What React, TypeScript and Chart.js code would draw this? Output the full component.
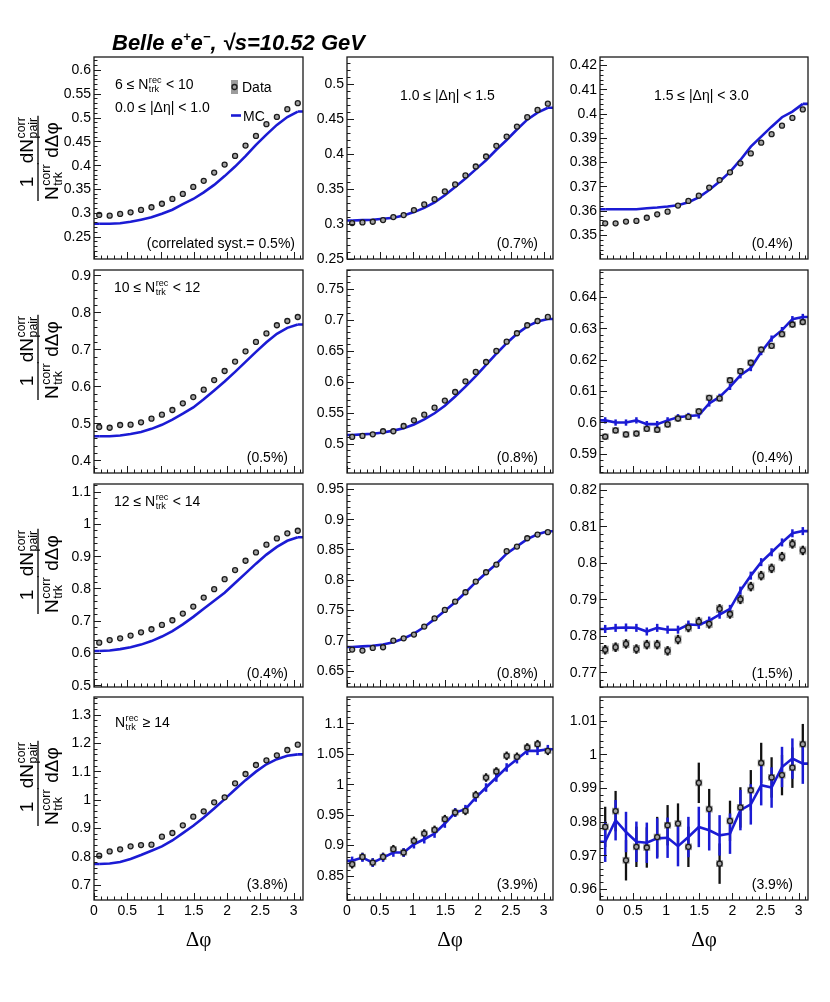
import { useEffect, useRef } from "react";
import { Chart, registerables } from "chart.js";

Chart.register(...registerables);

// centres of the 20 delta-phi bins between 0 and pi
const PHI_BINS = [0.0785, 0.2356, 0.3927, 0.5498, 0.7069, 0.8639, 1.021, 1.1781, 1.3352, 1.4923,
  1.6493, 1.8064, 1.9635, 2.1206, 2.2777, 2.4347, 2.5918, 2.7489, 2.906, 3.0631];
const X_TICK_LABELS = [0, 0.5, 1, 1.5, 2, 2.5, 3];

// 6 <= Ntrk < 10
const DATA_N6_ETA0 = [0.2955, 0.294, 0.2976, 0.301, 0.306, 0.3116, 0.319, 0.329, 0.3396, 0.3543, 0.367, 0.3844, 0.4012, 0.4194, 0.4411, 0.4614, 0.4859, 0.5013, 0.5174, 0.53];
const MC_N6_ETA0 = [0.277, 0.277, 0.278, 0.281, 0.2855, 0.2905, 0.298, 0.3065, 0.318, 0.329, 0.343, 0.3585, 0.377, 0.397, 0.419, 0.4425, 0.464, 0.4845, 0.501, 0.5125];
const DATA_N6_ETA1 = [0.3013, 0.3023, 0.3032, 0.3056, 0.3099, 0.3127, 0.3199, 0.3279, 0.3355, 0.3465, 0.3565, 0.3693, 0.3821, 0.3964, 0.4116, 0.4249, 0.4392, 0.4525, 0.4629, 0.4719];
const MC_N6_ETA1 = [0.305, 0.3055, 0.306, 0.3075, 0.309, 0.312, 0.317, 0.323, 0.331, 0.341, 0.353, 0.365, 0.378, 0.391, 0.406, 0.42, 0.435, 0.449, 0.459, 0.466];
const DATA_N6_ETA2 = [0.3548, 0.3548, 0.3555, 0.3558, 0.3571, 0.3585, 0.3596, 0.3621, 0.364, 0.3662, 0.3695, 0.3726, 0.3758, 0.3795, 0.3836, 0.388, 0.3915, 0.395, 0.3982, 0.4017];
const MC_N6_ETA2 = [0.3606, 0.3606, 0.3606, 0.3606, 0.361, 0.3613, 0.3617, 0.3622, 0.3635, 0.3655, 0.3685, 0.372, 0.376, 0.3809, 0.3864, 0.3905, 0.3946, 0.3985, 0.4008, 0.404];

// 10 <= Ntrk < 12
const DATA_N10_ETA0 = [0.49, 0.488, 0.4955, 0.4964, 0.5027, 0.5126, 0.5234, 0.536, 0.554, 0.571, 0.591, 0.617, 0.6414, 0.667, 0.6946, 0.72, 0.743, 0.765, 0.7766, 0.7874];
const MC_N10_ETA0 = [0.465, 0.465, 0.467, 0.471, 0.4766, 0.485, 0.496, 0.51, 0.526, 0.543, 0.565, 0.589, 0.613, 0.639, 0.666, 0.693, 0.719, 0.742, 0.758, 0.767];
const DATA_N10_ETA1 = [0.5108, 0.5124, 0.5151, 0.52, 0.52, 0.5285, 0.5376, 0.5468, 0.558, 0.5694, 0.5833, 0.6005, 0.6156, 0.6317, 0.6495, 0.6645, 0.678, 0.6909, 0.6978, 0.7043];
const MC_N10_ETA1 = [0.514, 0.515, 0.516, 0.518, 0.521, 0.525, 0.531, 0.539, 0.549, 0.561, 0.576, 0.592, 0.609, 0.627, 0.645, 0.662, 0.677, 0.689, 0.697, 0.701];
const DATA_N10_ETA2 = [0.5954, 0.5974, 0.5961, 0.5964, 0.5979, 0.5976, 0.5993, 0.6012, 0.6017, 0.6035, 0.6078, 0.6076, 0.6134, 0.6163, 0.619, 0.6232, 0.6244, 0.6281, 0.6312, 0.632];
const MC_N10_ETA2 = [0.6006, 0.5999, 0.5999, 0.6006, 0.5994, 0.5994, 0.6006, 0.6016, 0.602, 0.6022, 0.606, 0.6081, 0.6113, 0.615, 0.6173, 0.6224, 0.6267, 0.6294, 0.6329, 0.6336];

// 12 <= Ntrk < 14
const DATA_N12_ETA0 = [0.632, 0.64, 0.6456, 0.6539, 0.6642, 0.6736, 0.687, 0.7016, 0.7223, 0.744, 0.772, 0.798, 0.829, 0.857, 0.886, 0.912, 0.936, 0.9554, 0.971, 0.979];
const MC_N12_ETA0 = [0.606, 0.608, 0.612, 0.618, 0.626, 0.637, 0.651, 0.668, 0.689, 0.712, 0.737, 0.762, 0.787, 0.817, 0.847, 0.877, 0.905, 0.929, 0.948, 0.959];
const DATA_N12_ETA1 = [0.6847, 0.6831, 0.6875, 0.6886, 0.6996, 0.7034, 0.7095, 0.7227, 0.7364, 0.7502, 0.764, 0.7794, 0.797, 0.8124, 0.8251, 0.8471, 0.8548, 0.8685, 0.8746, 0.8785];
const MC_N12_ETA1 = [0.689, 0.69, 0.691, 0.693, 0.697, 0.703, 0.711, 0.722, 0.735, 0.749, 0.763, 0.779, 0.796, 0.811, 0.826, 0.843, 0.855, 0.867, 0.875, 0.88];
const DATA_N12_ETA2 = [0.7762, 0.7769, 0.7778, 0.7764, 0.7776, 0.7776, 0.7759, 0.779, 0.7823, 0.7839, 0.7833, 0.7874, 0.786, 0.79, 0.7935, 0.7965, 0.7985, 0.8017, 0.8052, 0.8034];
const MC_N12_ETA2 = [0.7819, 0.7822, 0.7823, 0.7822, 0.7812, 0.7822, 0.7817, 0.7817, 0.7831, 0.783, 0.7842, 0.7858, 0.7874, 0.7924, 0.7965, 0.8002, 0.8029, 0.8056, 0.8081, 0.8087];

// Ntrk >= 14
const DATA_N14_ETA0 = [0.8024, 0.8176, 0.8247, 0.8353, 0.84, 0.8412, 0.8694, 0.8824, 0.9094, 0.94, 0.9588, 0.9906, 1.0082, 1.0576, 1.0906, 1.1224, 1.1388, 1.1565, 1.1753, 1.1941];
const MC_N14_ETA0 = [0.773, 0.775, 0.78, 0.791, 0.805, 0.82, 0.835, 0.856, 0.882, 0.908, 0.937, 0.969, 1.002, 1.036, 1.069, 1.099, 1.125, 1.143, 1.155, 1.16];
const DATA_N14_ETA1 = [0.8687, 0.8807, 0.8714, 0.8807, 0.8933, 0.8879, 0.907, 0.919, 0.925, 0.9426, 0.9535, 0.9562, 0.982, 1.0109, 1.0208, 1.0465, 1.0449, 1.0602, 1.0656, 1.0547];
const MC_N14_ETA1 = [0.8742, 0.8796, 0.8714, 0.8796, 0.8879, 0.8879, 0.9015, 0.9097, 0.919, 0.9354, 0.9535, 0.959, 0.9781, 0.9945, 1.0109, 1.0274, 1.041, 1.0547, 1.0547, 1.0574];
const DATA_N14_ETA2 = [0.9784, 0.9831, 0.9685, 0.9725, 0.9723, 0.9754, 0.9789, 0.9794, 0.9725, 0.9915, 0.9837, 0.9675, 0.9802, 0.9842, 0.9893, 0.9974, 0.9931, 0.9938, 0.996, 1.003];
const MC_N14_ETA2 = [0.974, 0.9804, 0.9769, 0.974, 0.9737, 0.975, 0.9752, 0.9727, 0.9754, 0.9784, 0.9774, 0.9759, 0.9764, 0.9834, 0.9851, 0.9908, 0.9901, 0.9962, 0.9987, 0.9972];

// frame edges in page pixels
const COL_X = [[94, 303], [347, 553], [600, 808]];
const ROW_Y = [[57, 259], [270, 473], [484, 687], [697, 900]];
const YTITLE_CENTER = [161, 360, 574, 786];

const SANS = '"Liberation Sans", Arial, sans-serif';
const SERIF = '"Liberation Serif", "Times New Roman", serif';
const BLUE = "#1b1bd4";

type Seg = string | { sup: string; sub: string };
interface Note { dx: number; dy: number; segs: Seg[] }
interface Panel {
  row: number; col: number;
  data: number[]; mc: number[];
  yMin: number; yMax: number; yStep: number;
  dErr: number; mErr: number; sys: number;
  pct: string; notes: Note[]; legend?: boolean;
}

const NREC = { sup: "rec", sub: "trk" };

const PANELS: Panel[] = [
  { row: 0, col: 0, data: DATA_N6_ETA0, mc: MC_N6_ETA0, yMin: 0.203, yMax: 0.627, yStep: 0.05, dErr: 0, mErr: 0, sys: 0,
    pct: "(correlated syst.= 0.5%)", legend: true,
    notes: [{ dx: 21, dy: 27, segs: ["6 ≤ N", NREC, " < 10"] }, { dx: 21, dy: 50, segs: ["0.0 ≤ |Δη| < 1.0"] }] },
  { row: 0, col: 1, data: DATA_N6_ETA1, mc: MC_N6_ETA1, yMin: 0.25, yMax: 0.5385, yStep: 0.05, dErr: 0, mErr: 0, sys: 0,
    pct: "(0.7%)", notes: [{ dx: 53, dy: 38, segs: ["1.0 ≤ |Δη| < 1.5"] }] },
  { row: 0, col: 2, data: DATA_N6_ETA2, mc: MC_N6_ETA2, yMin: 0.3401, yMax: 0.4233, yStep: 0.01, dErr: 0, mErr: 0, sys: 0,
    pct: "(0.4%)", notes: [{ dx: 54, dy: 38, segs: ["1.5 ≤ |Δη| < 3.0"] }] },
  { row: 1, col: 0, data: DATA_N10_ETA0, mc: MC_N10_ETA0, yMin: 0.3657, yMax: 0.9144, yStep: 0.1, dErr: 0, mErr: 0, sys: 0,
    pct: "(0.5%)", notes: [{ dx: 20, dy: 17, segs: ["10 ≤ N", NREC, " < 12"] }] },
  { row: 1, col: 1, data: DATA_N10_ETA1, mc: MC_N10_ETA1, yMin: 0.4527, yMax: 0.78, yStep: 0.05, dErr: 0, mErr: 0, sys: 0,
    pct: "(0.8%)", notes: [] },
  { row: 1, col: 2, data: DATA_N10_ETA2, mc: MC_N10_ETA2, yMin: 0.5838, yMax: 0.6486, yStep: 0.01, dErr: 0.0009, mErr: 0.001, sys: 0.001,
    pct: "(0.4%)", notes: [] },
  { row: 2, col: 0, data: DATA_N12_ETA0, mc: MC_N12_ETA0, yMin: 0.4946, yMax: 1.124, yStep: 0.1, dErr: 0, mErr: 0, sys: 0,
    pct: "(0.4%)", notes: [{ dx: 20, dy: 17, segs: ["12 ≤ N", NREC, " < 14"] }] },
  { row: 2, col: 1, data: DATA_N12_ETA1, mc: MC_N12_ETA1, yMin: 0.623, yMax: 0.958, yStep: 0.05, dErr: 0, mErr: 0, sys: 0,
    pct: "(0.8%)", notes: [] },
  { row: 2, col: 2, data: DATA_N12_ETA2, mc: MC_N12_ETA2, yMin: 0.766, yMax: 0.8216, yStep: 0.01, dErr: 0.0013, mErr: 0.0011, sys: 0.0011,
    pct: "(1.5%)", notes: [] },
  { row: 3, col: 0, data: DATA_N14_ETA0, mc: MC_N14_ETA0, yMin: 0.646, yMax: 1.3624, yStep: 0.1, dErr: 0, mErr: 0, sys: 0,
    pct: "(3.8%)", notes: [{ dx: 21, dy: 25, segs: ["N", NREC, " ≥ 14"] }] },
  { row: 3, col: 1, data: DATA_N14_ETA1, mc: MC_N14_ETA1, yMin: 0.81, yMax: 1.143, yStep: 0.05, dErr: 0.007, mErr: 0.007, sys: 0.005,
    pct: "(3.9%)", notes: [] },
  { row: 3, col: 2, data: DATA_N14_ETA2, mc: MC_N14_ETA2, yMin: 0.9567, yMax: 1.017, yStep: 0.01, dErr: 0.006, mErr: 0.006, sys: 0.001,
    pct: "(3.9%)", notes: [] },
];

function ticksBetween(min: number, max: number, step: number) {
  const out: number[] = [];
  const start = Math.ceil(min / step - 1e-6);
  const end = Math.floor(max / step + 1e-6);
  for (let k = start; k <= end; k++) out.push(+(k * step).toFixed(6));
  return out;
}

function fmt(v: number) {
  return String(parseFloat(v.toFixed(4)));
}

function richWidth(ctx: CanvasRenderingContext2D, segs: Seg[], size: number) {
  let w = 0;
  for (const s of segs) {
    if (typeof s === "string") {
      ctx.font = `${size}px ${SANS}`;
      w += ctx.measureText(s).width;
    } else {
      ctx.font = `${size * 0.65}px ${SANS}`;
      w += Math.max(ctx.measureText(s.sup).width, ctx.measureText(s.sub).width) + 1;
    }
  }
  return w;
}

function drawRich(ctx: CanvasRenderingContext2D, segs: Seg[], x: number, base: number, size: number) {
  let cx = x;
  ctx.textAlign = "left";
  ctx.textBaseline = "alphabetic";
  for (const s of segs) {
    if (typeof s === "string") {
      ctx.font = `${size}px ${SANS}`;
      ctx.fillText(s, cx, base);
      cx += ctx.measureText(s).width;
    } else {
      ctx.font = `${size * 0.65}px ${SANS}`;
      ctx.fillText(s.sup, cx + 0.5, base - size * 0.42);
      ctx.fillText(s.sub, cx + 0.5, base + size * 0.22);
      cx += Math.max(ctx.measureText(s.sup).width, ctx.measureText(s.sub).width) + 1;
    }
  }
}

function drawYTitle(ctx: CanvasRenderingContext2D, cy: number) {
  const size = 19;
  ctx.save();
  ctx.translate(38, cy);
  ctx.rotate(-Math.PI / 2);
  ctx.fillStyle = "#000";
  ctx.strokeStyle = "#000";
  ctx.lineWidth = 1.3;
  const frac = (cx: number, num: Seg[], den: Seg[]) => {
    const wn = richWidth(ctx, num, size);
    const wd = richWidth(ctx, den, size);
    const w = Math.max(wn, wd) + 2;
    drawRich(ctx, num, cx - wn / 2, -5, size);
    drawRich(ctx, den, cx - wd / 2, 20, size);
    ctx.beginPath();
    ctx.moveTo(cx - w / 2, 0);
    ctx.lineTo(cx + w / 2, 0);
    ctx.stroke();
  };
  frac(-21, ["1"], ["N", { sup: "corr", sub: "trk" }]);
  frac(21, ["dN", { sup: "corr", sub: "pair" }], ["dΔφ"]);
  ctx.restore();
}

function makePlugin(p: Panel, canvasTop: number) {
  return {
    id: "rootPanel",
    beforeDatasetsDraw(chart: Chart) {
      const { ctx, chartArea: a } = chart;
      const x = chart.scales.x;
      const y = chart.scales.y;
      ctx.save();
      ctx.beginPath();
      ctx.rect(a.left, a.top, a.right - a.left, a.bottom - a.top);
      ctx.clip();
      if (p.sys > 0) {
        ctx.fillStyle = "#9c9c9c";
        PHI_BINS.forEach((v, i) => {
          const px = x.getPixelForValue(v);
          const y1 = y.getPixelForValue(p.data[i] + p.sys);
          const y2 = y.getPixelForValue(p.data[i] - p.sys);
          ctx.fillRect(px - 3.5, y1, 7, y2 - y1);
        });
      }
      if (p.dErr > 0) {
        ctx.strokeStyle = "#111";
        ctx.lineWidth = 2.3;
        PHI_BINS.forEach((v, i) => {
          const px = x.getPixelForValue(v);
          ctx.beginPath();
          ctx.moveTo(px, y.getPixelForValue(p.data[i] + p.dErr));
          ctx.lineTo(px, y.getPixelForValue(p.data[i] - p.dErr));
          ctx.stroke();
        });
      }
      ctx.restore();
    },
    afterDatasetDraw(chart: Chart, args: { index: number }) {
      if (args.index !== 1) return;
      const { ctx, chartArea: a } = chart;
      const x = chart.scales.x;
      const y = chart.scales.y;
      ctx.save();
      ctx.beginPath();
      ctx.rect(a.left, a.top, a.right - a.left, a.bottom - a.top);
      ctx.clip();
      ctx.strokeStyle = BLUE;
      ctx.lineWidth = 2.6;
      const last = PHI_BINS.length - 1;
      const y0 = y.getPixelForValue(p.mc[0]);
      const yl = y.getPixelForValue(p.mc[last]);
      ctx.beginPath();
      ctx.moveTo(a.left, y0);
      ctx.lineTo(x.getPixelForValue(PHI_BINS[0]), y0);
      ctx.moveTo(x.getPixelForValue(PHI_BINS[last]), yl);
      ctx.lineTo(a.right, yl);
      ctx.stroke();
      if (p.mErr > 0) {
        ctx.lineWidth = 2.5;
        PHI_BINS.forEach((v, i) => {
          const px = x.getPixelForValue(v);
          ctx.beginPath();
          ctx.moveTo(px, y.getPixelForValue(p.mc[i] + p.mErr));
          ctx.lineTo(px, y.getPixelForValue(p.mc[i] - p.mErr));
          ctx.stroke();
        });
      }
      ctx.restore();
    },
    afterDraw(chart: Chart) {
      const { ctx, chartArea: a } = chart;
      const x = chart.scales.x;
      const y = chart.scales.y;
      ctx.save();
      ctx.strokeStyle = "#1a1a1a";
      ctx.fillStyle = "#000";
      // ticks inside the frame
      ctx.lineWidth = 1;
      ctx.beginPath();
      for (const v of ticksBetween(0, Math.PI, 0.1)) {
        const px = Math.round(x.getPixelForValue(v)) + 0.5;
        const major = Math.abs(v * 2 - Math.round(v * 2)) < 1e-6;
        ctx.moveTo(px, a.bottom);
        ctx.lineTo(px, a.bottom - (major ? 7 : 3.5));
      }
      const majors = ticksBetween(p.yMin, p.yMax, p.yStep);
      for (const v of ticksBetween(p.yMin, p.yMax, p.yStep / 5)) {
        const py = Math.round(y.getPixelForValue(v)) + 0.5;
        const major = majors.some((m) => Math.abs(m - v) < 1e-7);
        ctx.moveTo(a.left, py);
        ctx.lineTo(a.left + (major ? 7 : 3.5), py);
      }
      ctx.stroke();
      // frame
      ctx.lineWidth = 1.3;
      ctx.strokeRect(a.left, a.top, a.right - a.left, a.bottom - a.top);
      // tick labels
      ctx.font = `14px ${SANS}`;
      ctx.textAlign = "right";
      ctx.textBaseline = "middle";
      for (const v of majors) ctx.fillText(fmt(v), a.left - 3, y.getPixelForValue(v) + 0.5);
      if (p.row === 3) {
        ctx.textAlign = "center";
        ctx.textBaseline = "alphabetic";
        for (const v of X_TICK_LABELS) ctx.fillText(fmt(v), x.getPixelForValue(v), a.bottom + 15);
        ctx.font = `21px ${SERIF}`;
        ctx.fillText("Δφ", (a.left + a.right) / 2, a.bottom + 46);
      }
      // notes
      for (const n of p.notes) drawRich(ctx, n.segs, a.left + n.dx, a.top + n.dy + 5, 14);
      ctx.font = `14px ${SANS}`;
      ctx.textAlign = "right";
      ctx.textBaseline = "alphabetic";
      const pr = p.legend ? 8 : 15;
      const pb = p.row === 2 ? 14 : 16;
      ctx.fillText(p.pct, a.right - pr, a.bottom - pb + 5);
      if (p.legend) {
        ctx.fillStyle = "#9c9c9c";
        ctx.fillRect(a.left + 137, a.top + 23, 7, 14);
        ctx.beginPath();
        ctx.arc(a.left + 140.5, a.top + 30, 2.5, 0, Math.PI * 2);
        ctx.fillStyle = "#a3a3a3";
        ctx.fill();
        ctx.lineWidth = 1.3;
        ctx.strokeStyle = "#1c1c1c";
        ctx.stroke();
        ctx.strokeStyle = BLUE;
        ctx.lineWidth = 2.6;
        ctx.beginPath();
        ctx.moveTo(a.left + 137, a.top + 58.5);
        ctx.lineTo(a.left + 147, a.top + 58.5);
        ctx.stroke();
        ctx.fillStyle = "#000";
        ctx.font = `14px ${SANS}`;
        ctx.textAlign = "left";
        ctx.fillText("Data", a.left + 148, a.top + 35);
        ctx.fillText("MC", a.left + 149, a.top + 63.5);
      }
      if (p.col === 0) drawYTitle(ctx, YTITLE_CENTER[p.row] - canvasTop);
      ctx.restore();
    },
  };
}

function PanelChart({ p }: { p: Panel }) {
  const canvasRef = useRef<HTMLCanvasElement>(null);
  const [fl, fr] = COL_X[p.col];
  const [ft, fb] = ROW_Y[p.row];
  const box = {
    left: p.col === 0 ? 0 : fl - 46,
    top: p.row === 0 ? 0 : ft - 10,
    right: fr + 6,
    bottom: p.row === 3 ? 962 : fb + 10,
  };

  useEffect(() => {
    if (!canvasRef.current) return;
    const chart = new Chart(canvasRef.current, {
      type: "scatter",
      data: {
        datasets: [
          {
            label: "Data",
            data: PHI_BINS.map((v, i) => ({ x: v, y: p.data[i] })),
            pointRadius: 2.5,
            pointBackgroundColor: "#a3a3a3",
            pointBorderColor: "#1c1c1c",
            pointBorderWidth: 1.3,
            showLine: false,
          },
          {
            label: "MC",
            data: PHI_BINS.map((v, i) => ({ x: v, y: p.mc[i] })),
            showLine: true,
            borderColor: BLUE,
            borderWidth: 2.6,
            pointRadius: 0,
            tension: 0,
          },
        ],
      },
      options: {
        animation: false,
        responsive: true,
        maintainAspectRatio: false,
        events: [],
        layout: {
          autoPadding: false,
          padding: { left: fl - box.left, top: ft - box.top, right: box.right - fr, bottom: box.bottom - fb },
        },
        plugins: { legend: { display: false }, tooltip: { enabled: false } },
        scales: {
          x: { type: "linear", min: 0, max: Math.PI, display: false },
          y: { type: "linear", min: p.yMin, max: p.yMax, display: false },
        },
      },
      plugins: [makePlugin(p, box.top) as any],
    });
    return () => chart.destroy();
  }, [p]);

  return (
    <div style={{ position: "absolute", left: box.left, top: box.top, width: box.right - box.left, height: box.bottom - box.top }}>
      <canvas ref={canvasRef} />
    </div>
  );
}

export default function App() {
  const sup = { fontSize: 13, position: "relative" as const, top: -9 };
  return (
    <div style={{ position: "absolute", left: 0, top: 0, width: 830, height: 1002, background: "#fff" }}>
      {PANELS.map((p, i) => (
        <PanelChart key={i} p={p} />
      ))}
      <div style={{ position: "absolute", left: 112, top: 32, font: `italic bold 22px ${SANS}`, lineHeight: "22px", whiteSpace: "nowrap", color: "#000" }}>
        Belle e<span style={sup}>+</span>e<span style={sup}>−</span>, √s=10.52 GeV
      </div>
    </div>
  );
}
